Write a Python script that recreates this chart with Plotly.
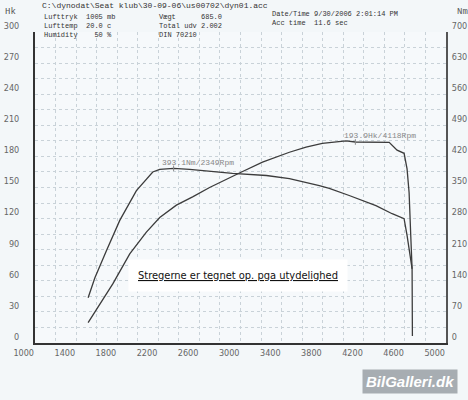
import plotly.graph_objects as go

# traced curves (rpm, hk) and (rpm, Nm)
power_rpm = [1517, 1631, 1757, 1922, 2084, 2214, 2376, 2534, 2699, 2990, 3214, 3476,
             3638, 3796, 4026, 4118, 4447, 4524, 4592, 4621, 4641, 4657, 4670, 4673]
power_hk = [19.6, 37.7, 57, 86, 107, 121, 133, 141, 150, 164, 174.5, 184,
            189, 192.6, 195.0, 193.9, 193.5, 186, 183, 168, 145, 103.5, 71.6, 6.8]

torque_rpm = [1517, 1583, 1696, 1825, 1987, 2146, 2214, 2349, 2505, 2922, 3252, 3476,
              3767, 3864, 4058, 4318, 4476, 4592, 4621, 4657, 4670]
torque_nm = [102, 147, 208, 276, 343, 385, 391, 393.1, 391, 382, 377, 370,
             354, 348, 332, 309, 291, 280, 242, 190, 167]

peak_torque = (2349, 393.1)
peak_power = (4118, 193.9)

x_ticks = list(range(1000, 5001, 400))
hk_ticks = list(range(0, 301, 30))
nm_ticks = list(range(0, 701, 70))

mono = "Liberation Mono, DejaVu Sans Mono, monospace"
narrow = "Liberation Sans Narrow, DejaVu Sans Condensed, sans-serif"
curve = dict(color='#3c3c3c', width=1.3)
grid = '#c9d2d8'

fig = go.Figure()
fig.add_trace(go.Scatter(x=power_rpm, y=power_hk, mode='lines', line=curve,
                         hoverinfo='skip'))
fig.add_trace(go.Scatter(x=torque_rpm, y=torque_nm, mode='lines', line=curve,
                         yaxis='y2', hoverinfo='skip'))
# small ticks at the peaks
tick_marker = dict(symbol='line-ns', size=4, line=dict(width=1, color='#8a8a8a'))
fig.add_trace(go.Scatter(x=[peak_power[0]], y=[peak_power[1]], mode='markers',
                         marker=tick_marker, hoverinfo='skip'))
fig.add_trace(go.Scatter(x=[peak_torque[0]], y=[peak_torque[1]], mode='markers',
                         marker=tick_marker, yaxis='y2', hoverinfo='skip'))


def sp(s):
    return s.replace(' ', '\u00a0')


def head(x, y, s, anchor='left', size=7, color='#333'):
    # window pixels -> paper coords of the plot area (35..446 x 32..343)
    px = (x - 35) / 411
    py = (343 - y) / 311
    fig.add_annotation(x=px, y=py, xref='paper', yref='paper', text=sp(s),
                       showarrow=False, xanchor=anchor, yanchor='middle', align='left',
                       font=dict(family=mono, size=size, color=color))


head(40, 6, "C:\\dynodat\\Seat klub\\30-09-06\\us00702\\dyn01.acc", size=8)
head(42, 26, "Lufttryk  1005 mb<br>Lufttemp  20.0 c<br>Humidity    50 %")
head(157, 26, "Vægt      685.0<br>Total udv 2.002<br>DIN 70210")
head(270, 19, "Date/Time 9/30/2006 2:01:14 PM<br>Acc time  11.6 sec")
head(3, 12, "Hk", size=9, color='#555')
head(455, 12, "Nm", size=9, color='#555')

# peak labels
fig.add_annotation(x=peak_torque[0], y=peak_torque[1], xref='x', yref='y2',
                   text=sp("393.1Nm/2349Rpm"), showarrow=False, xanchor='left',
                   yanchor='middle', xshift=-14, yshift=6,
                   font=dict(family=mono, size=8, color='#888'))
fig.add_annotation(x=peak_power[0], y=peak_power[1], xref='x', yref='y',
                   text=sp("193.9Hk/4118Rpm"), showarrow=False, xanchor='left',
                   yanchor='middle', xshift=-13, yshift=6,
                   font=dict(family=mono, size=8, color='#888'))

# note box
fig.add_annotation(x=(238 - 35) / 411, y=(343 - 275) / 311, xref='paper', yref='paper',
                   xanchor='center', yanchor='middle',
                   text="<u>Stregerne er tegnet op. pga utydelighed</u>",
                   showarrow=False, bgcolor='white', borderpad=9,
                   font=dict(family=narrow, size=11, color='#111'))

# watermark
fig.add_annotation(x=(410 - 35) / 411, y=(343 - 381) / 311, xref='paper', yref='paper',
                   xanchor='center', yanchor='middle',
                   text="BilGalleri.dk", showarrow=False, bgcolor='#a7adb2',
                   borderpad=3,
                   font=dict(family="Liberation Sans, Arial, sans-serif", size=15,
                             color='white', weight='bold', style='italic'))

tick_font = dict(family=narrow, size=9, color='#666')
fig.update_layout(
    width=468, height=400,
    margin=dict(l=35, r=22, t=32, b=57),
    paper_bgcolor='#f3f7f9',
    plot_bgcolor='#f6f9fb',
    showlegend=False,
    xaxis=dict(range=[1000, 5000], tickvals=x_ticks, showline=True, linecolor='#333',
               linewidth=2, showgrid=True, gridcolor=grid, griddash='dot',
               minor=dict(dtick=200, tick0=1000, showgrid=True, gridcolor=grid,
                          griddash='dot'),
               zeroline=False, ticks='', tickfont=tick_font,
               ticklabelposition='outside left', automargin=False),
    yaxis=dict(range=[0, 300], tickvals=hk_ticks, showline=True, linecolor='#333',
               linewidth=2, showgrid=True, gridcolor=grid, griddash='dot',
               minor=dict(dtick=15, tick0=0, showgrid=True, gridcolor=grid,
                          griddash='dot'),
               zeroline=False, ticks='', tickfont=tick_font, ticklabelstandoff=12,
               ticklabelposition='outside top', automargin=False),
    yaxis2=dict(range=[0, 700], tickvals=nm_ticks, overlaying='y', side='right',
                showline=True, linecolor='#555', linewidth=2, showgrid=False,
                zeroline=False, ticks='', tickfont=tick_font, ticklabelstandoff=2,
                ticklabelposition='outside top', automargin=False),
)

# the page body has a default 8px margin; drop it so the chart fills the window
fig.write_html("out.html", config={'displayModeBar': False},
               post_script="document.body.style.margin='0';")
